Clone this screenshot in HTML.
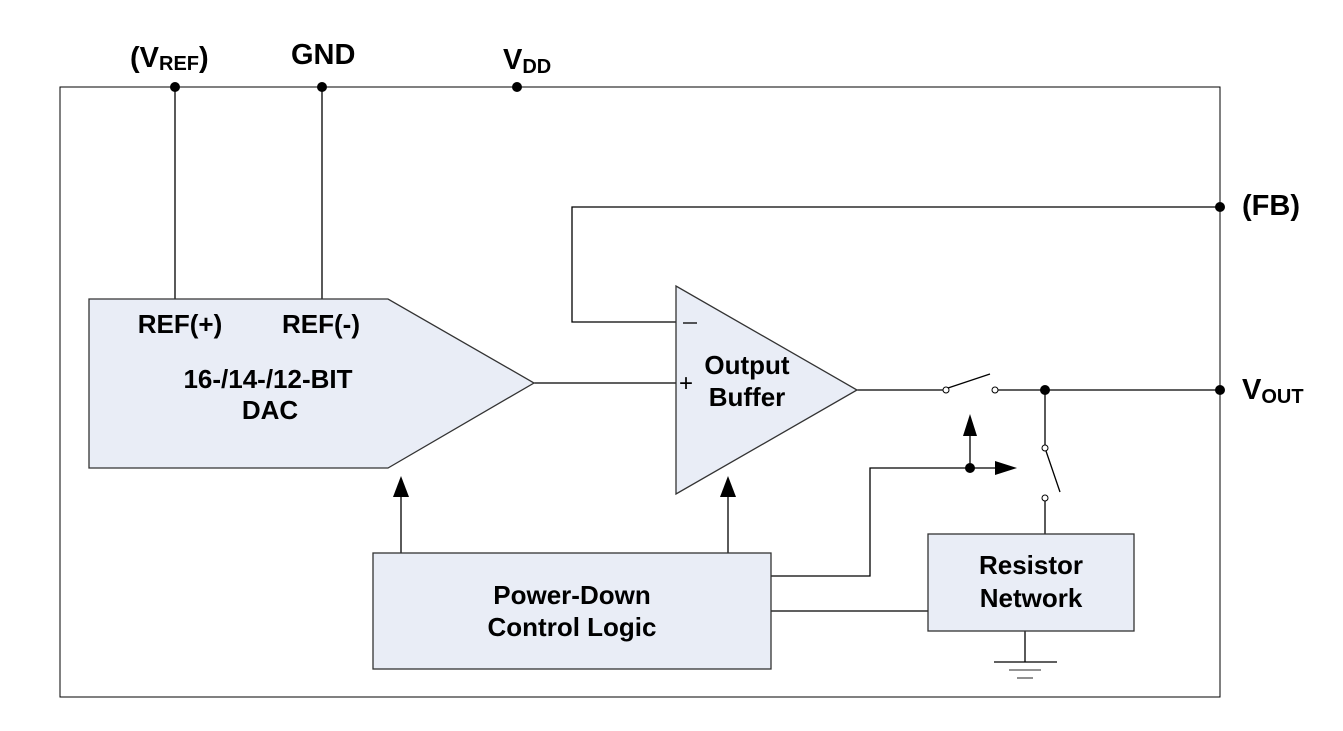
<!DOCTYPE html>
<html><head><style>body{margin:0;background:#fff}</style></head><body>
<svg width="1343" height="726" xmlns="http://www.w3.org/2000/svg" font-family="Liberation Sans, Arial, sans-serif" font-weight="bold">
<rect x="60" y="87" width="1160" height="610" fill="none" stroke="#000" stroke-width="1"/>
<g stroke="#000" stroke-width="1.3" fill="none">
<line x1="175" y1="87" x2="175" y2="299"/>
<line x1="322" y1="87" x2="322" y2="299"/>
<polyline points="1220,207 572,207 572,322 676,322"/>
<line x1="534" y1="383" x2="676" y2="383"/>
<line x1="857" y1="390" x2="943" y2="390"/>
<line x1="948" y1="388" x2="990" y2="374"/>
<line x1="998" y1="390" x2="1220" y2="390"/>
<line x1="1045" y1="390" x2="1045" y2="445"/>
<line x1="1046" y1="451" x2="1060" y2="492"/>
<line x1="1045" y1="501" x2="1045" y2="534"/>
<polyline points="771,576 870,576 870,468 1000,468"/>
<line x1="970" y1="468" x2="970" y2="432"/>
<line x1="771" y1="611" x2="928" y2="611"/>
<line x1="401" y1="553" x2="401" y2="495"/>
<line x1="728" y1="553" x2="728" y2="495"/>
<line x1="1025" y1="631" x2="1025" y2="662"/>
<line x1="994" y1="662" x2="1057" y2="662"/>
<line x1="1009" y1="670" x2="1041" y2="670" stroke="#555"/>
<line x1="1017" y1="678" x2="1033" y2="678" stroke="#555"/>
<line x1="683" y1="323" x2="697" y2="323"/>
</g>
<polygon points="89,299 388,299 534,383 388,468 89,468" fill="#e9edf6" stroke="#333" stroke-width="1.3"/>
<polygon points="676,286 676,494 857,390" fill="#e9edf6" stroke="#333" stroke-width="1.3"/>
<rect x="373" y="553" width="398" height="116" fill="#e9edf6" stroke="#333" stroke-width="1.3"/>
<rect x="928" y="534" width="206" height="97" fill="#e9edf6" stroke="#333" stroke-width="1.3"/>
<line x1="683" y1="323" x2="697" y2="323" stroke="#000" stroke-width="1.3"/>
<g fill="#000">
<polygon points="393,497 409,497 401,476"/>
<polygon points="720,497 736,497 728,476"/>
<polygon points="963,436 977,436 970,414"/>
<polygon points="995,461 995,475 1017,468"/>
<circle cx="175" cy="87" r="5"/><circle cx="322" cy="87" r="5"/><circle cx="517" cy="87" r="5"/>
<circle cx="1220" cy="207" r="5"/><circle cx="1220" cy="390" r="5"/>
<circle cx="1045" cy="390" r="5"/><circle cx="970" cy="468" r="5"/>
</g>
<g fill="#fff" stroke="#000" stroke-width="1">
<circle cx="946" cy="390" r="3"/><circle cx="995" cy="390" r="3"/>
<circle cx="1045" cy="448" r="3"/><circle cx="1045" cy="498" r="3"/>
</g>
<g font-weight="normal" fill="#000" font-size="24">
<text x="679" y="391">+</text>
</g>
<g fill="#000" font-size="29">
<text x="130" y="67">(V<tspan font-size="20" dy="3">REF</tspan><tspan dy="-3">)</tspan></text>
<text x="291" y="64">GND</text>
<text x="503" y="69">V<tspan font-size="20" dy="4">DD</tspan></text>
<text x="1242" y="215">(FB)</text>
<text x="1242" y="399">V<tspan font-size="20" dy="4">OUT</tspan></text>
</g>
<g fill="#000" font-size="26" text-anchor="middle">
<text x="180" y="333">REF(+)</text>
<text x="321" y="333">REF(-)</text>
<text x="268" y="388">16-/14-/12-BIT</text>
<text x="270" y="419">DAC</text>
<text x="747" y="374">Output</text>
<text x="747" y="406">Buffer</text>
<text x="572" y="604">Power-Down</text>
<text x="572" y="636">Control Logic</text>
<text x="1031" y="574">Resistor</text>
<text x="1031" y="607">Network</text>
</g>
</svg>
</body></html>
